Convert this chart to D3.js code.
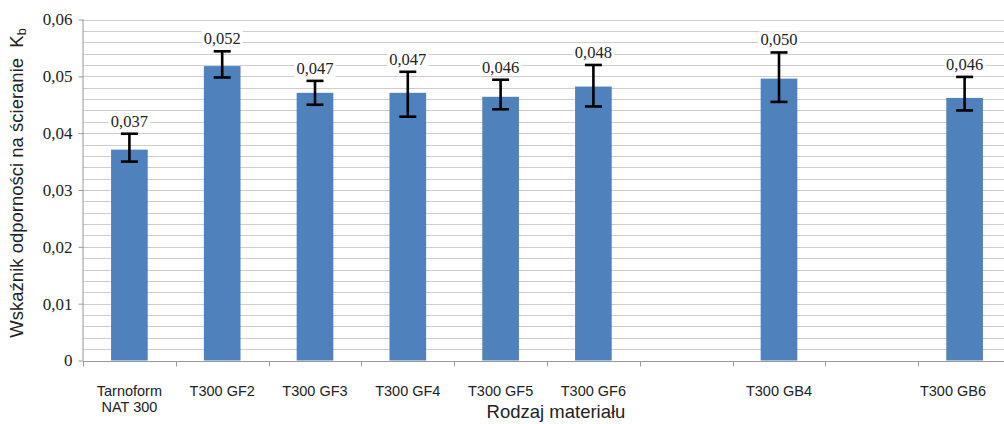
<!DOCTYPE html>
<html><head><meta charset="utf-8">
<script src="https://cdn.jsdelivr.net/npm/d3@7"></script>
<style>body{margin:0;background:#fff}svg{display:block}</style>
</head><body>
<svg id="c" width="1004" height="424"></svg>
<script>
const categories = ["Tarnoform\nNAT 300","T300 GF2","T300 GF3","T300 GF4","T300 GF5","T300 GF6",null,"T300 GB4",null,"T300 GB6"];
const values     = [0.0371,0.0518,0.0471,0.0471,0.0464,0.0482,null,0.0496,null,0.0462];
const errLow     = [0.0350,0.0498,0.0450,0.0429,0.0442,0.0447,null,0.0455,null,0.0440];
const errHigh    = [0.0399,0.0544,0.0492,0.0508,0.0494,0.0520,null,0.0542,null,0.0499];
const valueLabels= ["0,037","0,052","0,047","0,047","0,046","0,048",null,"0,050",null,"0,046"];
const yTicks     = [0,0.01,0.02,0.03,0.04,0.05,0.06];
const yTickLabels= ["0","0,01","0,02","0,03","0,04","0,05","0,06"];
const minorTicks = d3.range(0,31).map(i=>i*0.002);

const svg = d3.select("#c");
const L=83, R=1011, T=19.5, B=360.5;
const x = d3.scaleBand().domain(d3.range(categories.length)).range([L,R]).paddingInner(0).paddingOuter(0);
const y = d3.scaleLinear().domain([0,0.06]).range([B,T]);
const barW = x.bandwidth()*0.395;

// grid
svg.append("g").selectAll("line").data(minorTicks.slice(1)).join("line")
  .attr("x1",L).attr("x2",R).attr("y1",d=>Math.round(y(d))+0.5).attr("y2",d=>Math.round(y(d))+0.5)
  .attr("stroke","#cdcdcd").attr("stroke-width",1);

// y axis
const ya = svg.append("g").attr("transform",`translate(${L+0.5},0)`)
  .call(d3.axisLeft(y).tickValues(yTicks).tickFormat((d,i)=>yTickLabels[i]).tickSize(5).tickPadding(6));
ya.select(".domain").attr("stroke","#9a9a9a").attr("d",`M-0.5,${B}V${T}`);
ya.selectAll(".tick line").attr("stroke","#9a9a9a");
ya.selectAll(".tick text").attr("font-family","Liberation Serif, serif").attr("font-size",17).attr("fill","#222");

// x axis
const xa = svg.append("g").attr("transform",`translate(0,${Math.round(B)+0.5})`);
xa.append("line").attr("x1",L).attr("x2",R).attr("stroke","#9a9a9a");
xa.selectAll(".tk").data(d3.range(categories.length+1)).join("line").attr("class","tk")
  .attr("x1",i=>Math.round(L+i*x.step())+0.5).attr("x2",i=>Math.round(L+i*x.step())+0.5)
  .attr("y1",0).attr("y2",5).attr("stroke","#9a9a9a");
categories.forEach((c,i)=>{
  if(!c) return;
  const t = xa.append("text").attr("text-anchor","middle").attr("font-family","Liberation Sans, Arial, sans-serif")
    .attr("font-size",14.5).attr("fill","#222");
  c.split("\n").forEach((ln,j)=>t.append("tspan").attr("x",0).attr("y",34+j*16.5).text(ln));
  // keep labels inside the visible chart area
  const w = t.node().getBBox().width;
  let cx = x(i)+x.bandwidth()/2;
  cx = Math.min(cx, 986 - w/2);
  t.attr("transform",`translate(${cx},0)`);
});

// bars
const idx = d3.range(categories.length).filter(i=>values[i]!=null);
svg.append("g").selectAll("rect").data(idx).join("rect")
  .attr("x",i=>x(i)+x.bandwidth()/2-barW/2).attr("width",barW)
  .attr("y",i=>y(values[i])).attr("height",i=>B-y(values[i]))
  .attr("fill","#4f81bd");

// error bars
const eg = svg.append("g").attr("stroke","#000").attr("stroke-width",2.6);
idx.forEach(i=>{
  const cx = x(i)+x.bandwidth()/2, cw=8.5;
  eg.append("line").attr("x1",cx).attr("x2",cx).attr("y1",y(errHigh[i])).attr("y2",y(errLow[i]));
  eg.append("line").attr("x1",cx-cw).attr("x2",cx+cw).attr("y1",y(errHigh[i])).attr("y2",y(errHigh[i]));
  eg.append("line").attr("x1",cx-cw).attr("x2",cx+cw).attr("y1",y(errLow[i])).attr("y2",y(errLow[i]));
});

// value labels
const lg = svg.append("g");
idx.forEach(i=>{
  const cx = x(i)+x.bandwidth()/2, by = y(errHigh[i])-7;
  const t = lg.append("text").attr("x",cx).attr("y",by).attr("text-anchor","middle")
    .attr("font-family","Liberation Serif, serif").attr("font-size",16.5).attr("fill","#222").text(valueLabels[i]);
  const bb = t.node().getBBox();
  lg.insert("rect","text").attr("x",bb.x-2).attr("y",bb.y+1).attr("width",bb.width+4).attr("height",bb.height-2).attr("fill","#fff");
});

// axis titles
svg.append("text").attr("x",556).attr("y",418).attr("text-anchor","middle")
  .attr("font-family","Liberation Sans, Arial, sans-serif").attr("font-size",18.5).attr("fill","#222").text("Rodzaj materiału");
const yt = svg.append("text").attr("transform","translate(23,183) rotate(-90)").attr("text-anchor","middle")
  .attr("font-family","Liberation Sans, Arial, sans-serif").attr("font-size",18.5).attr("fill","#222");
yt.append("tspan").text("Wskaźnik odporności na ścieranie\u00A0\u00A0K");
yt.append("tspan").attr("font-size",12.5).attr("dy",3).text("b");
</script>
</body></html>
